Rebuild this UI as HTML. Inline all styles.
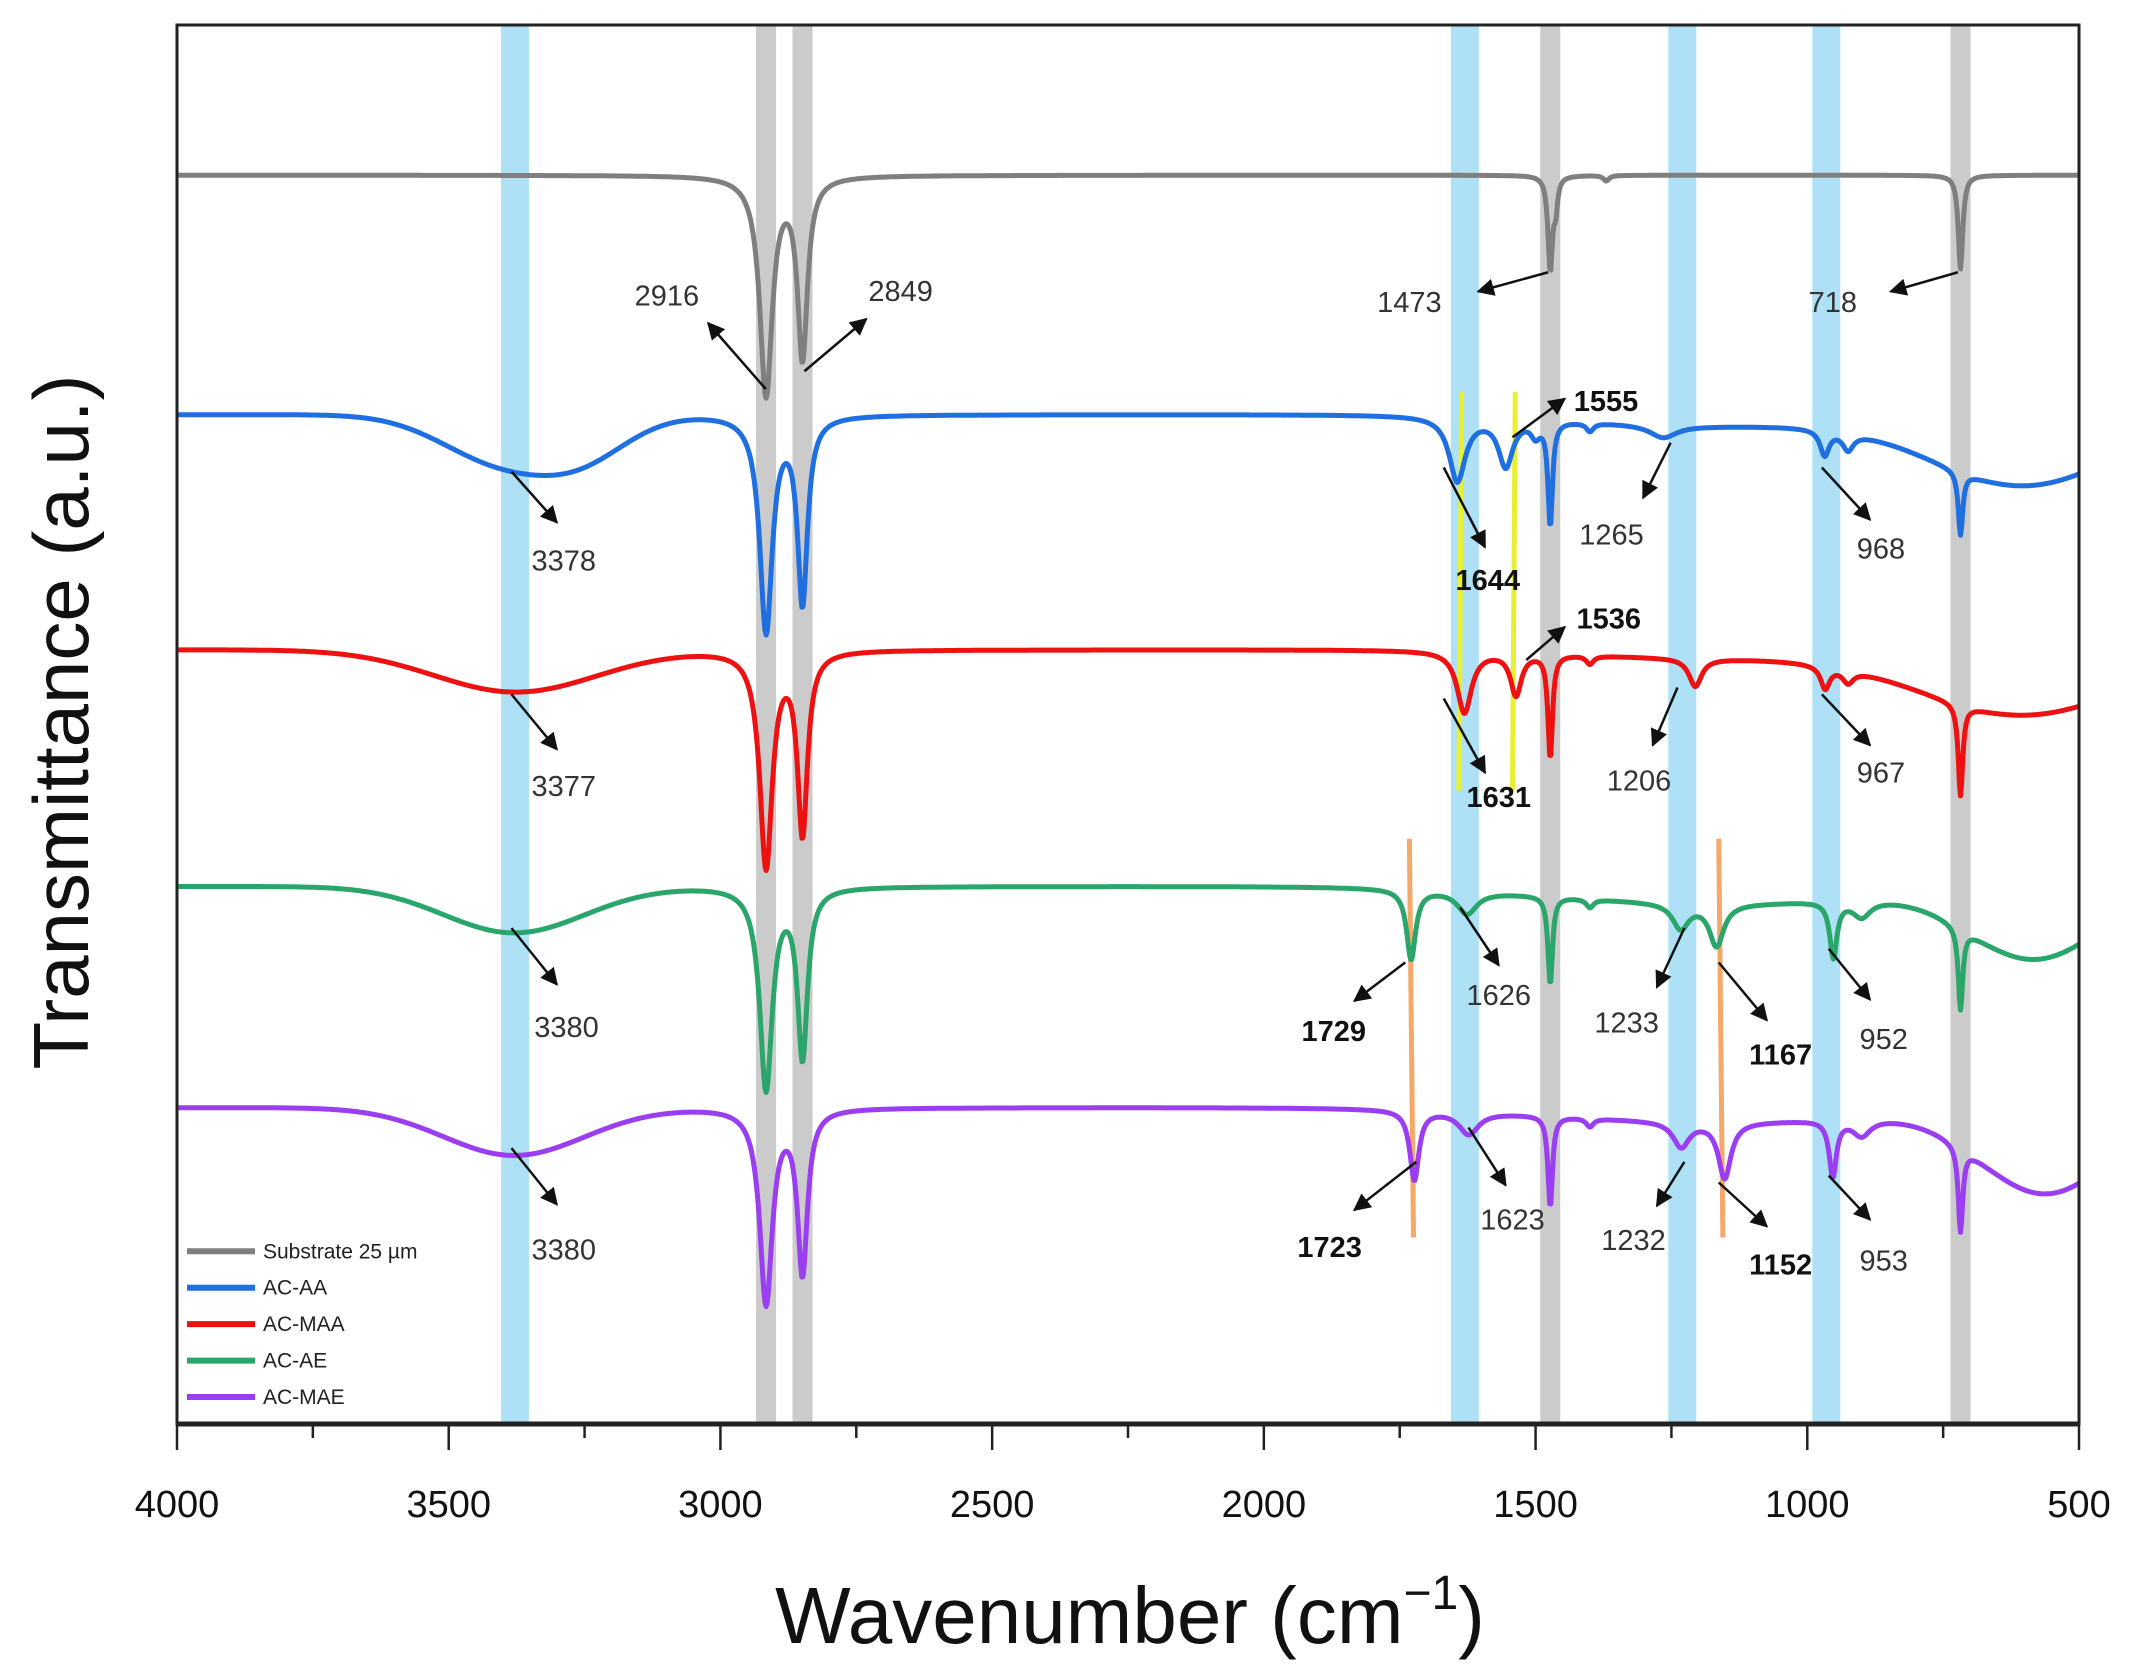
<!DOCTYPE html>
<html><head><meta charset="utf-8"><style>
html,body{margin:0;padding:0;background:#fff;}
svg{display:block;font-family:"Liberation Sans",Arial,sans-serif;}
</style></head><body>
<svg id="chart" width="2155" height="1674" viewBox="0 0 2155 1674" xmlns="http://www.w3.org/2000/svg">
<defs><marker id="ah" viewBox="0 0 10 10" refX="9" refY="5" markerWidth="7" markerHeight="7" orient="auto"><path d="M0,0 L10,5 L0,10 z" fill="#111"/></marker></defs>
<g id="bands"></g><g id="marks"></g><g id="series"></g><g id="annot"></g><g id="axes"></g>
</svg>
<script>
// ---- data ----
const xTicks = [4000,3500,3000,2500,2000,1500,1000,500];
const xTickLabels = ["4000","3500","3000","2500","2000","1500","1000","500"];
const seriesNames = ["Substrate 25 µm","AC-AA","AC-MAA","AC-AE","AC-MAE"];
const seriesColors = ["#7f7f7f","#1f6fe0","#ee1111","#2aa66a","#9b3df0"];
const baselines = [89.2, 72.1, 55.3, 38.4, 22.6];
// peaks: [wavenumber, depth (a.u.), half-width]
const peaksGray = [[2916,15.6,14],[2849,12.8,11],[1473,6.7,5],[1463,2,4],[1370,0.4,6],[718,6.7,5]];
const peaksBlue = [[3400,3.4,110],[3250,2.4,85],[2916,15.4,14],[2849,13.2,11],[1644,4.6,18],[1555,3.4,16],[1500,1,10],[1473,7.4,5],[1400,0.6,8],[1265,0.9,30],[968,1.8,10],[925,1.2,12],[1150,0.8,250],[600,5.0,170],[718,4.5,5]];
const peaksRed = [[3377,3.0,150],[2916,15.4,14],[2849,12.9,11],[1631,4.4,16],[1536,3.0,12],[1473,7.4,5],[1400,0.6,8],[1206,2.0,14],[967,1.6,10],[925,0.9,12],[1150,0.6,250],[600,4.6,190],[718,6.5,5]];
const peaksGreen = [[3380,3.3,130],[2916,14.4,14],[2849,12.0,11],[1729,5.0,10],[1626,1.6,22],[1473,6.3,5],[1400,0.6,8],[1233,1.8,18],[1167,3.0,16],[952,4.0,8],[900,1.2,20],[1150,1.2,300],[580,5.0,120],[718,5.8,5]];
const peaksPurple = [[3380,3.4,130],[2916,13.9,14],[2849,11.6,11],[1723,5.0,10],[1623,1.6,22],[1473,6.5,5],[1400,0.6,8],[1232,1.8,18],[1152,4.0,14],[953,4.0,8],[900,1.2,20],[1150,1.0,300],[560,6.0,120],[718,6.0,5]];
const allPeaks = [peaksGray,peaksBlue,peaksRed,peaksGreen,peaksPurple];
const blueBands = [3378,1630,1230,965];
const grayBands = [2916,2849,1473,718];
// annotations: text, bold, label position (display units), arrow start, arrow end
const annots = [
["2916",0,485,222,557,283,515,235],["2849",0,655,219,585,270,630,232],
["1473",0,1025,227,1126,198,1075,212],["718",0,1333,227,1424,198,1375,212],
["3378",0,410,415,372,343,405,380],["1555",1,1168,299,1100,318,1138,290],
["1644",1,1082,429,1050,340,1080,398],["1265",0,1172,396,1215,322,1195,362],
["968",0,1368,406,1325,340,1360,378],
["3377",0,410,579,372,505,405,545],["1536",1,1170,457,1110,480,1138,456],
["1631",1,1090,587,1050,508,1080,562],["1206",0,1192,575,1220,500,1202,542],
["967",0,1368,569,1325,505,1360,542],
["3380",0,412,754,372,675,405,716],["1729",1,970,757,1022,700,985,728],
["1626",0,1090,731,1062,660,1090,702],["1233",0,1183,751,1225,675,1205,718],
["1167",1,1295,774,1250,700,1285,742],["952",0,1370,763,1330,690,1360,727],
["3380",0,410,916,372,835,405,876],["1723",1,967,914,1030,845,985,880],
["1623",0,1100,894,1068,820,1095,862],["1232",0,1188,909,1225,845,1205,877],
["1152",1,1295,927,1250,860,1285,892],["953",0,1370,924,1330,855,1360,887]];
// ---- layout ----
const L=177,R=2079,T=25,B=1424,S=1.375;
const NS="http://www.w3.org/2000/svg";
const xS=w=>L+(4000-w)/3500*(R-L);
const yS=v=>B-v*14;
function mk(tag,attrs,parent,txt){const e=document.createElementNS(NS,tag);for(const k in attrs)e.setAttribute(k,attrs[k]);if(txt!==undefined)e.textContent=txt;document.getElementById(parent).appendChild(e);return e;}
// bands
blueBands.forEach(w=>{const e=mk('rect',{x:xS(w)-14,y:T,width:28,height:B-T,fill:'#aee0f6'},'bands');

});
grayBands.forEach(w=>{const e=mk('rect',{x:xS(w)-10,y:T,width:20,height:B-T,fill:'#cbcbcb'},'bands');

});
// yellow / orange marker lines
[[1063,285,1061,575,'#e8f030'],[1102,285,1100,575,'#e8f030'],[1025,610,1028,900,'#f5a868'],[1250,610,1253,900,'#f5a868']].forEach(m=>{
const e=mk('line',{x1:m[0]*S,y1:m[1]*S,x2:m[2]*S,y2:m[3]*S,stroke:m[4],'stroke-width':5},'marks');

});
// series
allPeaks.forEach((pk,i)=>{let d='';
for(let w=4000;w>=500;w-=2){let v=baselines[i];
pk.forEach(p=>{const u=(w-p[0])/p[2];v-= p[2]>60? p[1]*Math.exp(-u*u/2) : p[1]/(1+u*u);});
d+=(w===4000?'M':'L')+xS(w).toFixed(1)+','+yS(v).toFixed(1);}
const e=mk('path',{d:d,fill:'none',stroke:seriesColors[i],'stroke-width':5,'stroke-linejoin':'round'},'series');

});
// annotations
annots.forEach(a=>{
const l=mk('line',{x1:a[4]*S,y1:a[5]*S,x2:a[6]*S,y2:a[7]*S,stroke:'#111','stroke-width':2.5,'marker-end':'url(#ah)'},'annot');


const t=mk('text',{x:a[2]*S,y:a[3]*S,'font-size':29,'text-anchor':'middle','font-weight':a[1]?'bold':'normal',fill:a[1]?'#111':'#333'},'annot',a[0]);

});
// legend
seriesNames.forEach((n,i)=>{const y=(910+i*26.5)*S;
const l=mk('line',{x1:187,y1:y,x2:255,y2:y,stroke:seriesColors[i],'stroke-width':6},'axes');


const t=mk('text',{x:263,y:y+7,'font-size':21,fill:'#222'},'axes',n);

});
// frame
const fr=mk('rect',{x:L,y:T,width:R-L,height:B-T,fill:'none',stroke:'#222','stroke-width':3},'axes');


const ax=mk('line',{x1:L,y1:B,x2:R,y2:B,stroke:'#222','stroke-width':5},'axes');


for(let w=4000;w>=500;w-=250){const maj=w%500===0;
const e=mk('line',{x1:xS(w),y1:B,x2:xS(w),y2:B+(maj?26:14),stroke:'#222','stroke-width':2.5},'axes');

}
xTicks.forEach((w,i)=>{const t=mk('text',{x:xS(w),y:1517,'font-size':38,'text-anchor':'middle',fill:'#111'},'axes',xTickLabels[i]);

});
const xt=mk('text',{x:1130,y:1643,'font-size':80,'text-anchor':'middle',fill:'#111'},'axes');


xt.innerHTML='Wavenumber (cm<tspan dy="-34" font-size="48">−1</tspan><tspan dy="34">)</tspan>';
const yt=mk('text',{x:0,y:0,'font-size':78,'text-anchor':'middle',fill:'#111',transform:'translate(88,722) rotate(-90)'},'axes','Transmittance (a.u.)');


</script>
</body></html>
